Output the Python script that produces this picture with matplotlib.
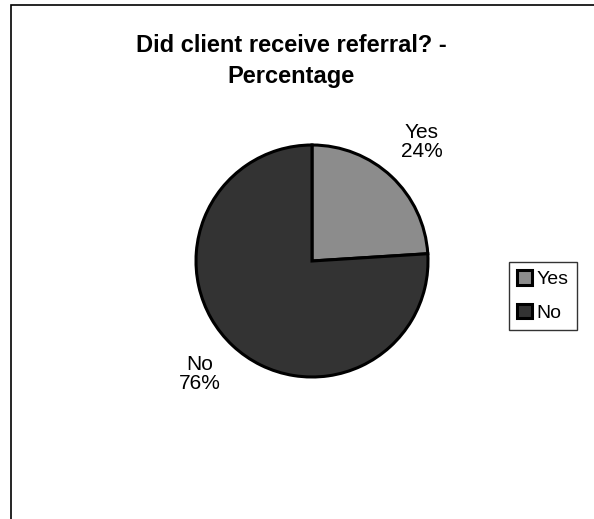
import matplotlib
matplotlib.use("Agg")
import matplotlib.pyplot as plt
import matplotlib.patches as mpatches
import numpy as np

categories = ["Yes", "No"]
percentages = [24, 76]
colors = ["#8c8c8c", "#333333"]

W, H = 594, 519
fig = plt.figure(figsize=(W/100, H/100), dpi=100)
fig.patch.set_facecolor("white")

# outer frame (cut off at right and bottom)
fig.patches.append(mpatches.Rectangle((11/W, -0.1), 1.2, 1 - 5/H + 0.1,
                                      transform=fig.transFigure, fill=False,
                                      edgecolor="black", linewidth=1.2))

cx, cy, r = 312, 261, 116
side = 240
ax = fig.add_axes([(cx - side/2)/W, 1 - (cy + side/2)/H, side/W, side/H])
wedges, _ = ax.pie(percentages, colors=colors, startangle=90, counterclock=False,
                   radius=r/(side/2),
                   wedgeprops=dict(edgecolor="black", linewidth=2.2))
ax.set_xlim(-1, 1)
ax.set_ylim(-1, 1)
ax.set_aspect("equal")
ax.axis("off")

# label placement (pixel offsets from the pie centre)
label_offsets = [(110, 119), (-112, -113)]
for cat, p, (dx, dy) in zip(categories, percentages, label_offsets):
    ax.text(dx/(side/2), dy/(side/2), f"{cat}\n{p}%", ha="center", va="center",
            fontsize=15, family="Liberation Sans", linespacing=1.05)

fig.text(0.49, 1 - 61/H, "Did client receive referral? -\nPercentage", ha="center",
         va="center", fontsize=17, fontweight="bold", family="Liberation Sans",
         linespacing=1.45)

leg = fig.legend(wedges, categories, loc="center", bbox_to_anchor=(543/W, 1 - 296/H),
                 frameon=True, fancybox=False, edgecolor="black", handlelength=0.75,
                 handleheight=0.75, handletextpad=0.25, borderpad=0.45, labelspacing=0.8,
                 prop={"family": "Liberation Sans", "size": 14})
leg.get_frame().set_linewidth(1.0)

fig.savefig("out.png", dpi=100)
